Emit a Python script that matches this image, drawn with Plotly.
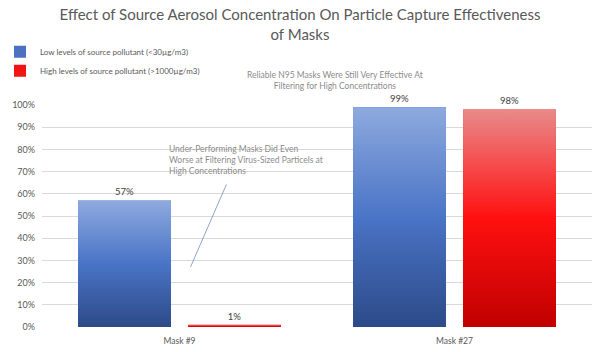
import base64
import plotly.graph_objects as go

categories = ["Mask #9", "Mask #27"]
series_names = ["Low levels of source pollutant (<30µg/m3)",
                "High levels of source pollutant (>1000µg/m3)"]
low_values = [0.57, 0.99]
high_values = [0.01, 0.98]
y_ticks = [i / 10 for i in range(11)]

BARGAP = 0.2
GROUPGAP = 0.155
x_idx = list(range(len(categories)))

solid = ["#4a72c0", "#f01414"]
grads = [("#8eaadf", "#4a74c6", "#2c4a88"), ("#ea8a8a", "#ff1010", "#c00000")]


def grad_uri(c):
    svg = ('<svg xmlns="http://www.w3.org/2000/svg" width="100" height="100" '
           'viewBox="0 0 100 100" preserveAspectRatio="none">'
           '<defs><linearGradient id="g" x1="0" y1="0" x2="0" y2="1">'
           f'<stop offset="0" stop-color="{c[0]}"/>'
           f'<stop offset="0.5" stop-color="{c[1]}"/>'
           f'<stop offset="1" stop-color="{c[2]}"/>'
           '</linearGradient></defs><rect width="100" height="100" fill="url(#g)"/></svg>')
    return "data:image/svg+xml;base64," + base64.b64encode(svg.encode()).decode()


fig = go.Figure()
all_vals = [low_values, high_values]
for k, (name, vals) in enumerate(zip(series_names, all_vals)):
    fig.add_trace(go.Bar(
        x=x_idx, y=vals, name=name,
        marker=dict(color=solid[k], line=dict(width=0)),
        text=[f"{round(v*100)}%" for v in vals], textposition="outside",
        textfont=dict(size=9.5, color="#404040"), cliponaxis=False,
    ))

# gradient overlays positioned from the data
slot = (1 - BARGAP) / 2
w = slot * (1 - GROUPGAP)
images = []
for k, vals in enumerate(all_vals):
    off = (k - 0.5) * slot
    for i, v in zip(x_idx, vals):
        images.append(dict(source=grad_uri(grads[k]), xref="x", yref="y",
                           x=i + off - w / 2, y=v, sizex=w, sizey=v,
                           xanchor="left", yanchor="top", sizing="stretch",
                           layer="above"))

fig.update_layout(
    width=600, height=352,
    margin=dict(l=42, r=8, t=105, b=25, autoexpand=False),
    paper_bgcolor="white", plot_bgcolor="white",
    font=dict(family="Lato", color="#595959"),
    barmode="group", bargap=BARGAP, bargroupgap=GROUPGAP,
    images=images,
    title=dict(text="Effect of Source Aerosol Concentration On Particle Capture Effectiveness<br>of Masks",
               x=0.5, xanchor="center", y=0.942, yanchor="top",
               font=dict(size=15, color="#595959")),
    legend=dict(xref="container", yref="container", x=0.0, y=0.894,
                xanchor="left", yanchor="top",
                font=dict(size=8, color="#595959"), itemwidth=30,
                tracegroupgap=4),
    showlegend=True,
    xaxis=dict(range=[-0.5, len(categories) - 0.5], tickvals=x_idx, ticktext=categories,
               showgrid=False, zeroline=False, showline=False, ticks="",
               ticklabelstandoff=7, automargin=False,
               tickfont=dict(size=8.5, color="#595959")),
    yaxis=dict(range=[0, 1.0], tickvals=y_ticks, tickformat=".0%",
               showgrid=True, gridcolor="#d9d9d9", gridwidth=1, zeroline=False,
               showline=False, ticks="", ticklabelstandoff=6, automargin=False,
               tickfont=dict(size=9, color="#595959")),
)

fig.add_annotation(
    text="Under-Performing Masks Did Even<br>Worse at Filtering Virus-Sized Particels at<br>High Concentrations",
    xref="x", yref="y", x=-0.045, y=0.835, xanchor="left", yanchor="top", align="left",
    showarrow=False, font=dict(size=8.5, color="#8c8c8c"))
fig.add_annotation(
    text="Reliable N95 Masks Were Still Very Effective At<br>Filtering for High Concentrations",
    xref="paper", yref="paper", x=(335 - 42) / 550, y=(327 - 68) / 222,
    xanchor="center", yanchor="top", align="center",
    showarrow=False, font=dict(size=8.5, color="#8c8c8c"))
# leader lines
fig.add_annotation(text="", xref="x", yref="y", x=0.04, y=0.27, axref="x", ayref="y",
                   ax=0.173, ay=0.649, showarrow=True, arrowhead=0, arrowwidth=0.8,
                   arrowcolor="#6f8fc4")
fig.add_annotation(text="", xref="x", yref="y", x=1.01, y=1.005, axref="x", ayref="y",
                   ax=0.838, ay=1.10, showarrow=True, arrowhead=0, arrowwidth=0.8,
                   arrowcolor="#6f8fc4")

fig.write_html("out.html")
